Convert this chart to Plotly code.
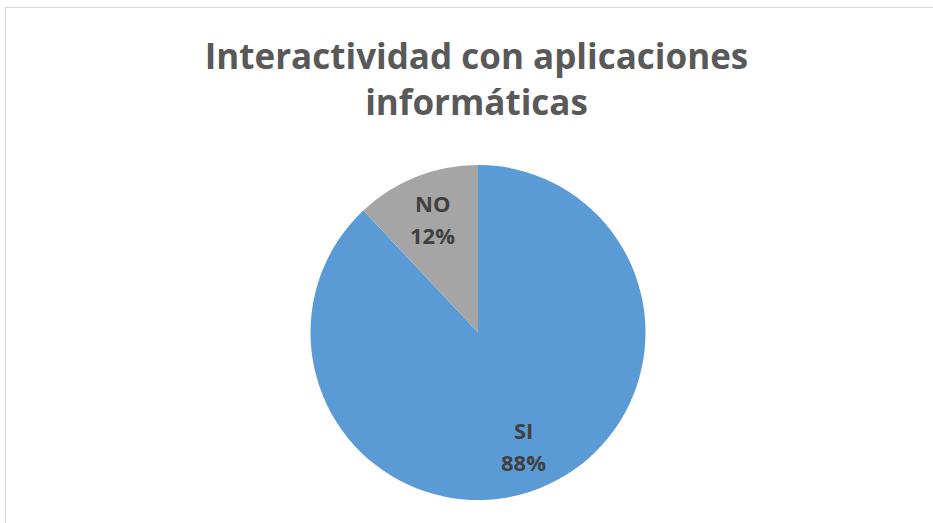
import math
import plotly.graph_objects as go

categories = ["SI", "NO"]
values = [88, 12]
colors = ["#5B9BD5", "#A5A5A5"]
title_text = "Interactividad con aplicaciones<br>informáticas"

W, H = 933, 523
cx, cy, r = 478, 332.5, 167.5

fig = go.Figure(go.Pie(
    labels=categories,
    values=values,
    sort=False,
    direction="clockwise",
    rotation=0,
    marker=dict(colors=colors, line=dict(width=0)),
    textinfo="none",
    showlegend=False,
    hoverinfo="label+percent",
    domain=dict(x=[(cx - r) / W, (cx + r) / W], y=[(H - cy - r) / H, (H - cy + r) / H]),
))

# data labels placed on each slice bisector (computed from the values)
total = sum(values)
annotations = []
start = 0.0
for lab, v in zip(categories, values):
    mid = (start + v / 2) / total * 2 * math.pi
    start += v
    px = cx + 0.73 * r * math.sin(mid)
    py = cy - 0.73 * r * math.cos(mid)
    pct = f"{round(100 * v / total)}%"
    for txt, dy in ((lab, -16), (pct, 16)):
        annotations.append(dict(
            x=px / W, y=1 - (py + dy) / H, xref="paper", yref="paper",
            text=f"<b>{txt}</b>", showarrow=False, xanchor="center", yanchor="middle",
            font=dict(family="Open Sans", size=22, color="#404040"),
        ))

fig.update_layout(
    width=W, height=H,
    margin=dict(l=0, r=0, t=0, b=0),
    paper_bgcolor="white",
    plot_bgcolor="white",
    title=dict(text="<b>" + title_text + "</b>", x=476.5 / W, xanchor="center", y=0.868, yanchor="top",
               font=dict(family="Open Sans", size=35, color="#595959")),
    annotations=annotations,
    shapes=[dict(type="rect", xref="paper", yref="paper", x0=5.5 / W, x1=1.02, y0=-0.02, y1=1 - 7.5 / H,
                 line=dict(color="#D9D9D9", width=1.2), fillcolor="rgba(0,0,0,0)", layer="below")],
)

fig.write_html("out.html", config={"displayModeBar": False},
               post_script="document.body.style.margin='0';")
